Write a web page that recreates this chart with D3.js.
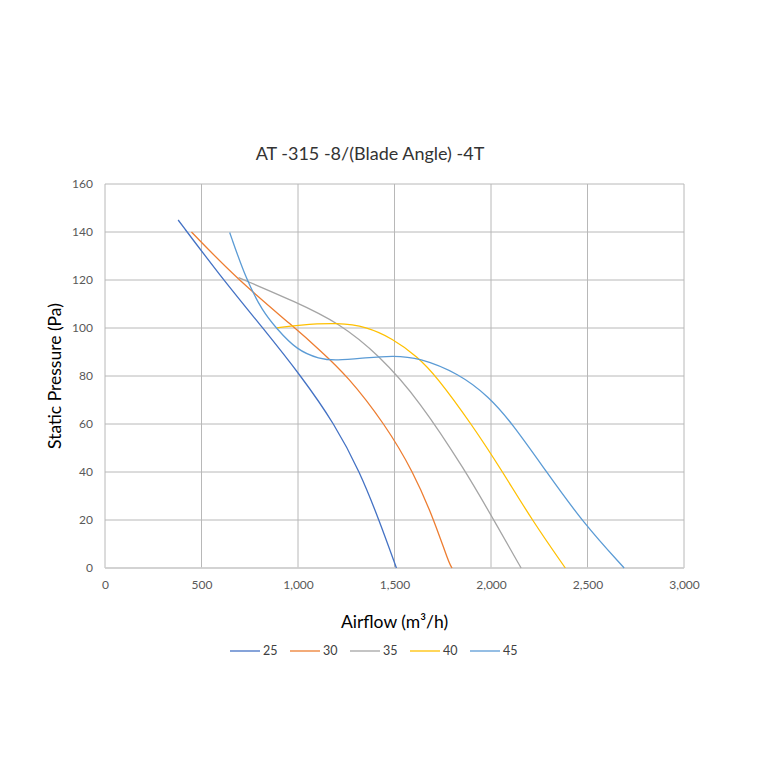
<!DOCTYPE html>
<meta charset="utf-8">
<style>
body {
  margin: 0;
  background: #fff;
  font-family: Lato, "Open Sans", sans-serif;
}
.grid line {
  stroke: #b8b8b8;
  stroke-width: 1;
}
.tick text {
  fill: #595959;
  font-size: 12px;
}
.curve {
  fill: none;
  stroke-width: 1.3;
}
</style>
<body>
<script src="https://cdn.jsdelivr.net/npm/d3@7"></script>
<script>

var width = 760,
    height = 760;

var margin = {top: 184, right: 76, bottom: 192, left: 105};

// blade angles
var angles = ["25", "30", "35", "40", "45"];
var colors = ["#4472C4", "#ED7D31", "#A5A5A5", "#FFC000", "#5B9BD5"];

// [airflow m3/h, static pressure Pa]
var curve25 = [[379, 145], [594, 122], [818, 100], [1016, 80], [1190, 60], [1321, 40], [1420, 20], [1510, 0]];
var curve30 = [[448, 140], [689, 120], [985, 100], [1110, 91], [1257, 80], [1450, 60], [1598, 40], [1705, 20], [1782, 2], [1798, 0]];
var curve35 = [[692, 121], [993, 110.7], [1214, 102], [1420, 88.7], [1627, 70], [1871, 40], [2000, 22], [2156, 0]];
var curve40 = [[890, 100], [1000, 101.3], [1214, 102.2], [1352, 100.6], [1489, 95.7], [1620, 88], [1716, 80], [1899, 60], [2061, 40], [2212, 20], [2385, 0]];
var curve45 = [[646, 139.8], [732, 120], [818, 106.8], [887, 100], [993, 90.8], [1111, 87.1], [1197, 86.4], [1352, 87.6], [1489, 88.5], [1627, 87.7], [1834, 81], [1989, 71.4], [2109, 60.3], [2281, 40.8], [2479, 18.6], [2690, 0]];

var curves = [curve25, curve30, curve35, curve40, curve45];

var xTicks = [0, 500, 1000, 1500, 2000, 2500, 3000];
var yTicks = [0, 20, 40, 60, 80, 100, 120, 140, 160];

var titleText = "AT -315 -8/(Blade Angle) -4T";
var xTitle = "Airflow (m\u00b3/h)";
var yTitle = "Static Pressure (Pa)";

var svg = d3.select("body").append("svg")
    .attr("width", width)
    .attr("height", height);

svg.append("rect")
    .attr("width", width)
    .attr("height", height)
    .attr("fill", "#fff");

var x = d3.scaleLinear()
    .domain([0, 3000])
    .range([margin.left, width - margin.right]);

var y = d3.scaleLinear()
    .domain([0, 160])
    .range([height - margin.bottom, margin.top]);

// grid
var grid = svg.append("g").attr("class", "grid");

grid.selectAll(".hline")
    .data(yTicks)
  .enter().append("line")
    .attr("x1", x(0))
    .attr("x2", x(3000))
    .attr("y1", function(d) { return y(d); })
    .attr("y2", function(d) { return y(d); });

grid.selectAll(".vline")
    .data(xTicks)
  .enter().append("line")
    .attr("x1", function(d) { return x(d); })
    .attr("x2", function(d) { return x(d); })
    .attr("y1", y(0))
    .attr("y2", y(160));

// bottom axis line
svg.append("line")
    .attr("x1", x(0))
    .attr("x2", x(3000))
    .attr("y1", y(0))
    .attr("y2", y(0))
    .attr("stroke", "#d0d0d0")
    .attr("stroke-width", 1.5);

var xAxis = svg.append("g")
    .attr("transform", "translate(0," + y(0) + ")")
    .call(d3.axisBottom(x).tickValues(xTicks).tickSize(0).tickPadding(12).tickFormat(d3.format(",")));
xAxis.select(".domain").remove();

var yAxis = svg.append("g")
    .attr("transform", "translate(" + x(0) + ",0)")
    .call(d3.axisLeft(y).tickValues(yTicks).tickSize(0).tickPadding(12));
yAxis.select(".domain").remove();

svg.selectAll(".tick text")
    .attr("font-family", "Lato, 'Open Sans', sans-serif");

// b-spline keeps the hand-read points from showing corners
var line = d3.line()
    .x(function(d) { return x(d[0]); })
    .y(function(d) { return y(d[1]); })
    .curve(d3.curveBasis);

svg.selectAll(".curve")
    .data(curves)
  .enter().append("path")
    .attr("class", "curve")
    .attr("stroke", function(d, i) { return colors[i]; })
    .attr("d", line);

// titles
svg.append("text")
    .attr("x", 370)
    .attr("y", 160)
    .attr("text-anchor", "middle")
    .attr("fill", "#333")
    .style("font-size", "18px")
    .text(titleText);

svg.append("text")
    .attr("x", (x(0) + x(3000)) / 2)
    .attr("y", 628)
    .attr("text-anchor", "middle")
    .attr("fill", "#000")
    .style("font-size", "17.5px")
    .text(xTitle);

svg.append("text")
    .attr("transform", "translate(61," + (y(0) + y(160)) / 2 + ")rotate(-90)")
    .attr("text-anchor", "middle")
    .attr("fill", "#000")
    .style("font-size", "17.5px")
    .text(yTitle);

// legend
var legend = svg.selectAll(".legend")
    .data(angles)
  .enter().append("g")
    .attr("class", "legend")
    .attr("transform", function(d, i) { return "translate(" + (230 + i * 60) + ",651)"; });

legend.append("line")
    .attr("x1", 0)
    .attr("x2", 30)
    .attr("stroke-width", 1.3)
    .attr("stroke", function(d, i) { return colors[i]; });

legend.append("text")
    .attr("x", 33)
    .attr("dy", "0.35em")
    .attr("fill", "#404040")
    .style("font-size", "12.5px")
    .text(function(d) { return d; });

</script>
